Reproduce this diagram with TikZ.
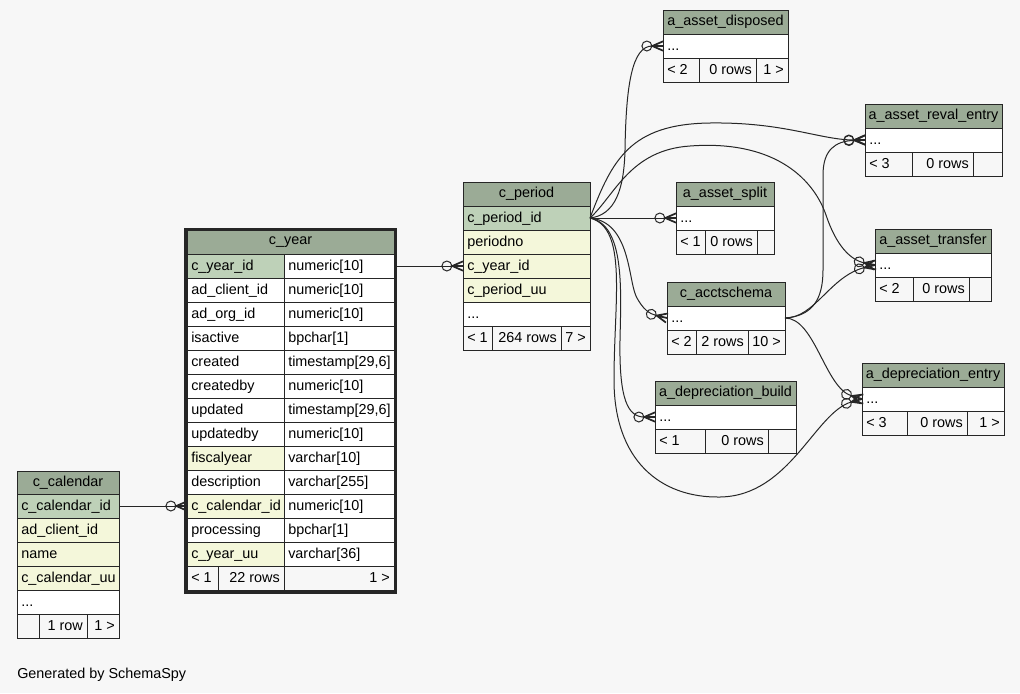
\documentclass[tikz,border=0pt]{standalone}
\usepackage{fontspec}
\setmainfont{Liberation Sans}
\usetikzlibrary{arrows.meta}

\definecolor{hdrC}{HTML}{9BAB96}
\definecolor{pkC}{HTML}{BED1B8}
\definecolor{fkC}{HTML}{F4F7DA}
\definecolor{bgC}{HTML}{F7F7F7}
\definecolor{lineC}{HTML}{262626}

\newcommand{\tblfont}{\fontsize{10.8pt}{13pt}\selectfont}

% crow's foot tip (graphviz "crow")
\pgfdeclarearrow{
  name = Crow,
  parameters = {\the\pgfarrowlength,\the\pgfarrowwidth},
  setup code = {
    \pgfarrowssettipend{0pt}
    \pgfarrowssetlineend{-\pgfarrowlength}
    \pgfarrowssetbackend{-\pgfarrowlength}
    \pgfarrowssetvisualbackend{-\pgfarrowlength}
    \pgfarrowshullpoint{0pt}{.5\pgfarrowwidth}
    \pgfarrowshullpoint{0pt}{-.5\pgfarrowwidth}
    \pgfarrowshullpoint{-\pgfarrowlength}{0pt}
    \pgfarrowssavethe\pgfarrowlength
    \pgfarrowssavethe\pgfarrowwidth
  },
  drawing code = {
    \pgfsetdash{}{0pt}
    \pgfsetlinewidth{1.3pt}
    \pgfpathmoveto{\pgfqpoint{0pt}{.5\pgfarrowwidth}}
    \pgfpathlineto{\pgfqpoint{-\pgfarrowlength}{0pt}}
    \pgfpathlineto{\pgfqpoint{0pt}{-.5\pgfarrowwidth}}
    \pgfpathmoveto{\pgfqpoint{0pt}{0pt}}
    \pgfpathlineto{\pgfqpoint{-\pgfarrowlength}{0pt}}
    \pgfusepathqstroke
  },
  defaults = {length=8pt, width=7pt}
}

\tikzset{
  cell/.style={draw=lineC, line width=0.75pt, minimum height=18pt,
    anchor=north west, inner sep=0pt, outer sep=0pt},
  celltext/.style={font=\tblfont, inner xsep=3pt, inner ysep=0pt,
    text height=7.5pt, text depth=1.5pt},
  fkline/.style={draw=lineC, line width=0.75pt,
    -{Circle[open,length=8.2pt] Crow[sep=0pt,length=8pt,width=7pt]}},
}

% cells: [fill]{name}{north west corner}{width in px}{text}
\newcommand{\cellH}[4]{%
  \node[cell, fill=hdrC, minimum width=#3*0.75pt, font=\tblfont] (#1) at #2 {#4};}
\newcommand{\cellL}[5][white]{%
  \node[cell, fill=#1, minimum width=#4*0.75pt] (#2) at #3 {};
  \node[celltext, anchor=west] (#2-t) at (#2.west) {#5};}
\newcommand{\cellR}[5][none]{%
  \node[cell, fill=#1, minimum width=#4*0.75pt] (#2) at #3 {};
  \node[celltext, anchor=east] (#2-t) at (#2.east) {#5};}

\begin{document}
\begin{tikzpicture}[x=0.75pt,y=-0.75pt]

    \useasboundingbox (0,0) rectangle (1020,693);
    \fill[bgC] (0,0) rectangle (1020,693);

    % --- c_year (focal table, thick frame) ---
    \cellH{cy}{(187,230)}{207}{c\_year}
    \foreach \nm/\ty/\fc [count=\i] in {
        c\_year\_id/numeric[10]/pkC, ad\_client\_id/numeric[10]/white,
        ad\_org\_id/numeric[10]/white, isactive/bpchar[1]/white,
        created/{timestamp[29,6]}/white, createdby/numeric[10]/white,
        updated/{timestamp[29,6]}/white, updatedby/numeric[10]/white,
        fiscalyear/varchar[10]/fkC, description/varchar[255]/white,
        c\_calendar\_id/numeric[10]/fkC, processing/bpchar[1]/white,
        c\_year\_uu/varchar[36]/fkC} {
      \cellL[\fc]{cy-\i-a}{(187,{230+24*\i})}{97}{\nm}
      \cellL{cy-\i-b}{(284,{230+24*\i})}{110}{\ty}
    }
    \cellL[none]{cy-f1}{(187,566)}{31}{< 1}
    \cellR{cy-f2}{(218,566)}{66}{22 rows}
    \cellR{cy-f3}{(284,566)}{110}{1 >}
    \draw[lineC, line width=2.25pt] (185,229.5) rectangle (395.5,592.5);

    % --- c_calendar ---
    \cellH{cal}{(17,471)}{102}{c\_calendar}
    \cellL[pkC]{cal-1}{(17,494)}{102}{c\_calendar\_id}
    \cellL[fkC]{cal-2}{(17,518)}{102}{ad\_client\_id}
    \cellL[fkC]{cal-3}{(17,542)}{102}{name}
    \cellL[fkC]{cal-4}{(17,566)}{102}{c\_calendar\_uu}
    \cellL{cal-5}{(17,590)}{102}{...}
    \cellR{cal-f1}{(17,614)}{22}{}
    \cellR{cal-f2}{(39,614)}{48}{1 row}
    \cellR{cal-f3}{(87,614)}{32}{1 >}

    % --- c_period ---
    \cellH{cp}{(463,182)}{127}{c\_period}
    \cellL[pkC]{cp-1}{(463,206)}{127}{c\_period\_id}
    \cellL[fkC]{cp-2}{(463,230)}{127}{periodno}
    \cellL[fkC]{cp-3}{(463,254)}{127}{c\_year\_id}
    \cellL[fkC]{cp-4}{(463,278)}{127}{c\_period\_uu}
    \cellL{cp-5}{(463,302)}{127}{...}
    \cellL[none]{cp-f1}{(463,326)}{29}{< 1}
    \cellR{cp-f2}{(492,326)}{69}{264 rows}
    \cellR{cp-f3}{(561,326)}{29}{7 >}

    % --- a_asset_disposed ---
    \cellH{ad}{(663,10)}{125}{a\_asset\_disposed}
    \cellL{ad-1}{(663,34)}{125}{...}
    \cellL[none]{ad-f1}{(663,58)}{36}{< 2}
    \cellR{ad-f2}{(699,58)}{57}{0 rows}
    \cellR{ad-f3}{(756,58)}{32}{1 >}

    % --- a_asset_reval_entry ---
    \cellH{rv}{(865,104)}{137}{a\_asset\_reval\_entry}
    \cellL{rv-1}{(865,128)}{137}{...}
    \cellL[none]{rv-f1}{(865,152)}{47}{< 3}
    \cellR{rv-f2}{(912,152)}{61}{0 rows}
    \cellR{rv-f3}{(973,152)}{29}{}

    % --- a_asset_split ---
    \cellH{as}{(676,182)}{98}{a\_asset\_split}
    \cellL{as-1}{(676,206)}{98}{...}
    \cellL[none]{as-f1}{(676,230)}{29}{< 1}
    \cellR{as-f2}{(705,230)}{52}{0 rows}
    \cellR{as-f3}{(757,230)}{17}{}

    % --- a_asset_transfer ---
    \cellH{at}{(875,229)}{116}{a\_asset\_transfer}
    \cellL{at-1}{(875,253)}{116}{...}
    \cellL[none]{at-f1}{(875,277)}{38}{< 2}
    \cellR{at-f2}{(913,277)}{56}{0 rows}
    \cellR{at-f3}{(969,277)}{22}{}

    % --- c_acctschema ---
    \cellH{ca}{(667,282)}{118}{c\_acctschema}
    \cellL{ca-1}{(667,306)}{118}{...}
    \cellL[none]{ca-f1}{(667,330)}{29}{< 2}
    \cellR{ca-f2}{(696,330)}{52}{2 rows}
    \cellR{ca-f3}{(748,330)}{37}{10 >}

    % --- a_depreciation_build ---
    \cellH{db}{(655,381)}{141}{a\_depreciation\_build}
    \cellL{db-1}{(655,405)}{141}{...}
    \cellL[none]{db-f1}{(655,429)}{50}{< 1}
    \cellR{db-f2}{(705,429)}{63}{0 rows}
    \cellR{db-f3}{(768,429)}{28}{}

    % --- a_depreciation_entry ---
    \cellH{de}{(862,363)}{142}{a\_depreciation\_entry}
    \cellL{de-1}{(862,387)}{142}{...}
    \cellL[none]{de-f1}{(862,411)}{45}{< 3}
    \cellR{de-f2}{(907,411)}{60}{0 rows}
    \cellR{de-f3}{(967,411)}{37}{1 >}

    % --- Foreign keys (parent -> child, crow at the child) ---
    \draw[fkline] (cal-1.east) -- (cy-11-a.west);
    \draw[fkline] (cy-1-b.east) -- (cp-3.west);

    % from c_period.c_period_id
    \draw[fkline] (cp-1.east) -- (as-1.west);
    \draw[fkline] (cp-1.east) .. controls (615,215) and (624,190) .. (625,150)
                  .. controls (626,85) and (632,46) .. (ad-1.west);
    \draw[fkline] (cp-1.east) .. controls (612,160) and (630,124) .. (710,123)
                  .. controls (785,122) and (820,140) .. (rv-1.west);
    \draw[fkline] (cp-1.east) .. controls (615,195) and (630,150) .. (690,146)
                  .. controls (770,140) and (812,175) .. (826,215)
                  .. controls (836,245) and (850,260) .. (at-1.west);
    \draw[fkline] (cp-1.east) .. controls (630,222) and (628,278) .. (636,296)
                  .. controls (643,310) and (650,314) .. (ca-1.west);
    \draw[fkline] (cp-1.east) .. controls (625,225) and (621,290) .. (620,340)
                  .. controls (619,400) and (628,417) .. (db-1.west);
    \draw[fkline] (cp-1.east) .. controls (628,228) and (614,300) .. (614,380)
                  .. controls (614,460) and (660,498) .. (720,497)
                  .. controls (790,496) and (815,412) .. (de-1.west);

    % from c_acctschema
    \draw[fkline] (ca-1.east) .. controls (812,316) and (823,300) .. (823,270)
                  -- (823,175) .. controls (823,150) and (835,141) .. (rv-1.west);
    \draw[fkline] (ca-1.east) .. controls (815,318) and (830,276) .. (at-1.west);
    \draw[fkline] (ca-1.east) .. controls (815,318) and (825,388) .. (de-1.west);

    % --- Footer text ---
    \node[celltext, anchor=west] (gen) at (13,674) {Generated by SchemaSpy};

\end{tikzpicture}
\end{document}
